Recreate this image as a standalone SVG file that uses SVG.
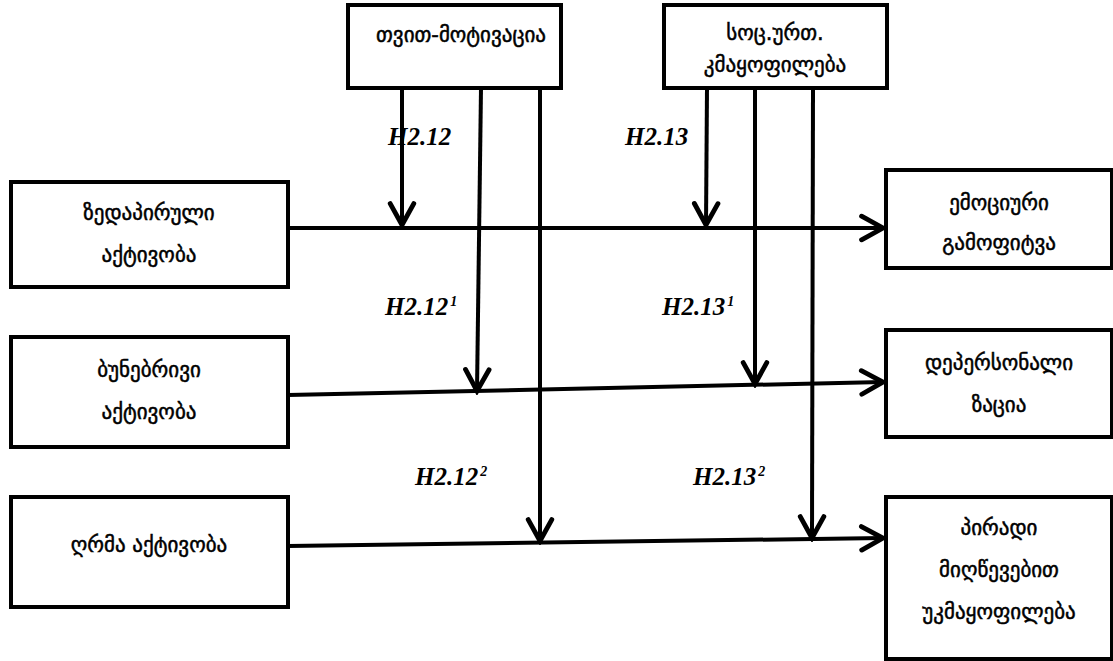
<svg xmlns="http://www.w3.org/2000/svg" width="1113" height="661" viewBox="0 0 1113 661">
  <style>
    .box { fill: #ffffff; stroke: #000000; stroke-width: 4; }
    .lbl { font-family: "DejaVu Sans", "Noto Sans", sans-serif; font-size: 21px; fill: #000000; stroke: #000000; stroke-width: 0.5; text-anchor: middle; }
    .hyp { font-family: "Liberation Serif", "Times New Roman", serif; font-size: 25px; font-weight: bold; font-style: italic; fill: #000000; }
    .sup { font-size: 14px; }
    .conn { fill: none; stroke: #000000; stroke-width: 4; }
  </style>
  <defs>
    <marker id="chev" markerUnits="userSpaceOnUse" markerWidth="30" markerHeight="30" viewBox="-24 -14 28 28" refX="0" refY="0" orient="auto">
      <path d="M-20,-11 L0,0 L-20,11" fill="none" stroke="#000000" stroke-width="4.5" stroke-linejoin="miter" stroke-linecap="round"/>
    </marker>
  </defs>

  <!-- moderators -->
  <g id="self-motivation">
    <rect class="box" x="348" y="5" width="213" height="83"/>
    <text class="lbl" x="461" y="42">თვით-მოტივაცია</text>
  </g>
  <g id="social-dissatisfaction">
    <rect class="box" x="664" y="5" width="223" height="83"/>
    <text class="lbl" x="775" y="40">სოც.ურთ.</text>
    <text class="lbl" x="775" y="72">კმაყოფილება</text>
  </g>

  <!-- predictors -->
  <g id="surface-acting">
    <rect class="box" x="11" y="182" width="277" height="105"/>
    <text class="lbl" x="149" y="220">ზედაპირული</text>
    <text class="lbl" x="149" y="262">აქტივობა</text>
  </g>
  <g id="natural-acting">
    <rect class="box" x="11" y="337" width="277" height="110"/>
    <text class="lbl" x="149" y="377">ბუნებრივი</text>
    <text class="lbl" x="149" y="419">აქტივობა</text>
  </g>
  <g id="deep-acting">
    <rect class="box" x="11" y="497" width="277" height="110"/>
    <text class="lbl" x="149" y="552">ღრმა აქტივობა</text>
  </g>

  <!-- outcomes -->
  <g id="emotional-exhaustion">
    <rect class="box" x="886" y="170" width="226" height="98"/>
    <text class="lbl" x="999" y="210">ემოციური</text>
    <text class="lbl" x="999" y="250">გამოფიტვა</text>
  </g>
  <g id="depersonalization">
    <rect class="box" x="886" y="330" width="226" height="107"/>
    <text class="lbl" x="999" y="370">დეპერსონალი</text>
    <text class="lbl" x="999" y="412">ზაცია</text>
  </g>
  <g id="personal-accomplishment">
    <rect class="box" x="886" y="497" width="226" height="162"/>
    <text class="lbl" x="999" y="535">პირადი</text>
    <text class="lbl" x="999" y="577">მიღწევებით</text>
    <text class="lbl" x="999" y="619">უკმაყოფილება</text>
  </g>

  <!-- paths and moderating arrows -->
  <g id="connectors">
    <line class="conn" x1="288" y1="228" x2="883" y2="228" marker-end="url(#chev)"/>
    <line class="conn" x1="288" y1="395" x2="883" y2="382" marker-end="url(#chev)"/>
    <line class="conn" x1="288" y1="546" x2="883" y2="538" marker-end="url(#chev)"/>

    <line class="conn" x1="402" y1="88" x2="402" y2="225" marker-end="url(#chev)"/>
    <line class="conn" x1="481" y1="88" x2="477" y2="391" marker-end="url(#chev)"/>
    <line class="conn" x1="540" y1="88" x2="540" y2="541" marker-end="url(#chev)"/>

    <line class="conn" x1="707" y1="88" x2="706" y2="225" marker-end="url(#chev)"/>
    <line class="conn" x1="755" y1="88" x2="755" y2="384" marker-end="url(#chev)"/>
    <line class="conn" x1="813" y1="88" x2="812" y2="538" marker-end="url(#chev)"/>
  </g>

  <!-- hypothesis labels -->
  <g id="hypotheses">
    <text class="hyp" x="388" y="145">H2.12</text>
    <text class="hyp" x="625" y="145">H2.13</text>
    <text class="hyp" x="385" y="315">H2.12<tspan class="sup" dx="2" dy="-9">1</tspan></text>
    <text class="hyp" x="662" y="315">H2.13<tspan class="sup" dx="2" dy="-9">1</tspan></text>
    <text class="hyp" x="415" y="485">H2.12<tspan class="sup" dx="2" dy="-9">2</tspan></text>
    <text class="hyp" x="693" y="485">H2.13<tspan class="sup" dx="2" dy="-9">2</tspan></text>
  </g>
</svg>
